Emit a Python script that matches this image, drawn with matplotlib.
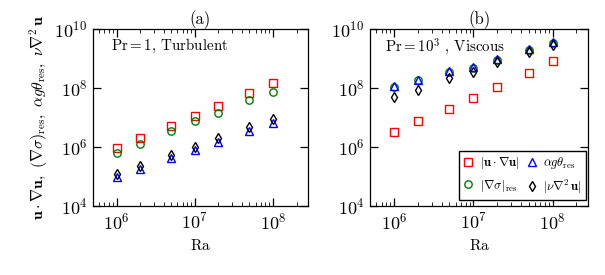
import numpy as np
import matplotlib
matplotlib.use("Agg")
import matplotlib.pyplot as plt
from matplotlib.ticker import LogLocator, FixedLocator, NullFormatter

plt.rcParams.update(
    {
        "font.family": "serif",
        "font.serif": ["cmr10", "DejaVu Serif"],
        "mathtext.fontset": "cm",
        "axes.formatter.use_mathtext": True,
        "axes.unicode_minus": False,
        "axes.linewidth": 0.9,
        "xtick.direction": "in",
        "ytick.direction": "in",
        "xtick.top": True,
        "ytick.right": True,
    }
)

# Rayleigh numbers
ra = [1e6, 2e6, 5e6, 1e7, 2e7, 5e7, 1e8]

# panel (a): Pr = 1
a_adv = [9.5e5, 2.0e6, 5.3e6, 1.1e7, 2.5e7, 6.7e7, 1.47e8]
a_press = [6.2e5, 1.27e6, 3.5e6, 7.5e6, 1.47e7, 4.0e7, 7.6e7]
a_buoy = [9.9e4, 1.8e5, 4.2e5, 8.0e5, 1.5e6, 3.5e6, 6.4e6]
a_visc = [1.23e5, 2.2e5, 5.4e5, 1.03e6, 2.0e6, 4.7e6, 8.8e6]

# panel (b): Pr = 10^3
b_adv = [3.3e6, 7.7e6, 1.96e7, 4.6e7, 1.07e8, 3.2e8, 8.2e8]
b_press = [1.12e8, 1.8e8, 3.5e8, 4.6e8, 9.0e8, 1.9e9, 3.3e9]
b_buoy = [1.19e8, 1.9e8, 3.8e8, 5.0e8, 9.8e8, 2.1e9, 3.6e9]
b_visc = [4.8e7, 8.7e7, 2.2e8, 3.6e8, 7.6e8, 1.6e9, 2.9e9]

labels = [
    r"$|\mathbf{u}\cdot\nabla\mathbf{u}|$",
    r"$|\nabla\sigma|_{\rm res}$",
    r"$\alpha g\theta_{\rm res}$",
    r"$|\nu\nabla^2\,\mathbf{u}|$",
]

fig = plt.figure(figsize=(6.05, 2.75), dpi=100)
ax_a = fig.add_axes([93 / 605, 1 - 206 / 275, 215 / 605, 177 / 275])
ax_b = fig.add_axes([370 / 605, 1 - 206 / 275, 218 / 605, 177 / 275])


def draw(ax, adv, press, buoy, visc):
    kw = dict(ls="none", mfc="none", ms=5.3, mew=1.0)
    h1, = ax.plot(ra, adv, marker="s", mec="r", **kw)
    h2, = ax.plot(ra, press, marker="o", mec="g", **kw)
    h3, = ax.plot(ra, buoy, marker="^", mec="b", **kw)
    h4, = ax.plot(ra, visc, marker="d", mec="k", **kw)
    ax.set_xscale("log")
    ax.set_yscale("log")
    ax.set_xlim(5e5, 2.8e8)
    ax.set_ylim(1e4, 1e10)
    ax.xaxis.set_major_locator(FixedLocator([1e6, 1e7, 1e8]))
    ax.yaxis.set_major_locator(FixedLocator([1e4, 1e6, 1e8, 1e10]))
    ax.yaxis.set_minor_locator(LogLocator(base=10, subs=np.arange(1, 10)))
    ax.yaxis.set_minor_formatter(NullFormatter())
    ax.xaxis.set_minor_formatter(NullFormatter())
    ax.tick_params(which="major", length=6, width=0.9, labelsize=13, pad=4)
    ax.tick_params(which="minor", length=3, width=0.6)
    ax.set_xlabel(r"$\mathrm{Ra}$", fontsize=11, labelpad=4)
    return [h1, h2, h3, h4]


draw(ax_a, a_adv, a_press, a_buoy, a_visc)
handles = draw(ax_b, b_adv, b_press, b_buoy, b_visc)

ax_a.set_title("(a)", fontsize=12, pad=3)
ax_b.set_title("(b)", fontsize=12, pad=3)
ax_a.text(0.082, 0.905, r"$\mathrm{Pr}=1$, Turbulent", transform=ax_a.transAxes,
          fontsize=10.8, va="center")
ax_b.text(0.069, 0.9, r"$\mathrm{Pr}=10^3$ , Viscous", transform=ax_b.transAxes,
          fontsize=10.8, va="center")

ax_a.set_ylabel(
    r"$\mathbf{u}\cdot\nabla\mathbf{u},\ (\nabla\sigma)_{\rm res},\ "
    r"\alpha g\theta_{\rm res},\ \nu\nabla^2\,\mathbf{u}$",
    fontsize=11.3, labelpad=3,
)

ax_b.legend(
    handles, labels, ncol=2, loc="lower right", bbox_to_anchor=(0.99, 0.034),
    borderaxespad=0, fontsize=9, handlelength=0.8, handletextpad=0.5,
    columnspacing=0.6, labelspacing=0.5, fancybox=False, edgecolor="k",
    framealpha=1, borderpad=0.35,
)

fig.savefig("out.png", dpi=100)
